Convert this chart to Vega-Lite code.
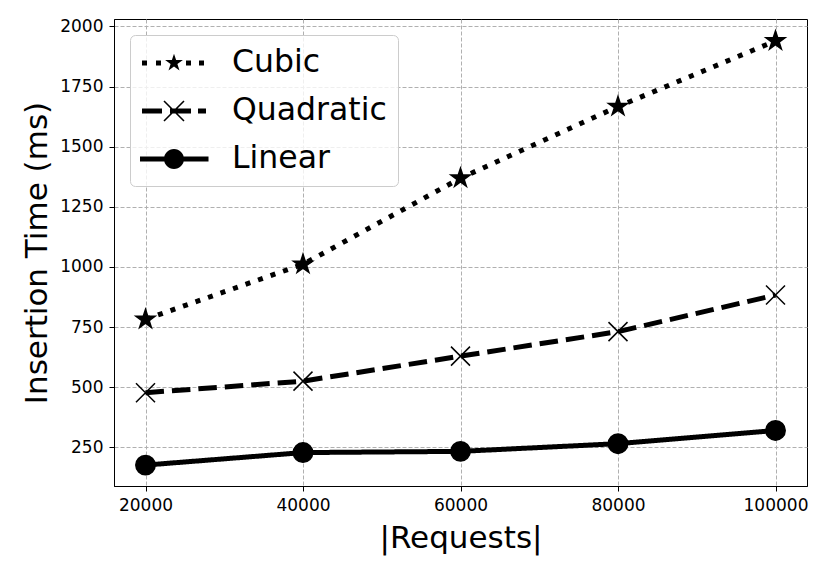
{
  "$schema": "https://vega.github.io/schema/vega-lite/v6.json",
  "width": 693,
  "height": 467,
  "autosize": {"type": "none"},
  "padding": {"left": 114, "top": 19, "right": 23, "bottom": 89},
  "background": "white",
  "config": {
    "font": "DejaVu Sans",
    "view": {"stroke": "black", "strokeWidth": 1},
    "axis": {
      "labelFont": "DejaVu Sans",
      "labelFontSize": 17,
      "labelColor": "black",
      "titleFont": "DejaVu Sans",
      "titleFontSize": 31,
      "titleFontWeight": "normal",
      "titleColor": "black",
      "tickColor": "black",
      "tickSize": 5,
      "tickWidth": 1,
      "domainColor": "black",
      "gridColor": "#b0b0b0",
      "gridDash": [4, 2],
      "gridWidth": 1,
      "labelPadding": 6
    }
  },
  "data": {
    "values": [
      {"series": "Cubic", "requests": 20000, "time": 782},
      {"series": "Cubic", "requests": 40000, "time": 1011},
      {"series": "Cubic", "requests": 60000, "time": 1369},
      {"series": "Cubic", "requests": 80000, "time": 1667},
      {"series": "Cubic", "requests": 100000, "time": 1940},
      {"series": "Quadratic", "requests": 20000, "time": 477},
      {"series": "Quadratic", "requests": 40000, "time": 525},
      {"series": "Quadratic", "requests": 60000, "time": 629},
      {"series": "Quadratic", "requests": 80000, "time": 731},
      {"series": "Quadratic", "requests": 100000, "time": 883},
      {"series": "Linear", "requests": 20000, "time": 176},
      {"series": "Linear", "requests": 40000, "time": 228},
      {"series": "Linear", "requests": 60000, "time": 233},
      {"series": "Linear", "requests": 80000, "time": 265},
      {"series": "Linear", "requests": 100000, "time": 320}
    ]
  },
  "encoding": {
    "x": {
      "field": "requests",
      "type": "quantitative",
      "scale": {"domain": [16000, 104000], "nice": false, "zero": false},
      "axis": {"values": [20000, 40000, 60000, 80000, 100000], "format": "d", "title": "|Requests|", "titlePadding": 10, "grid": true}
    },
    "y": {
      "field": "time",
      "type": "quantitative",
      "scale": {"domain": [89, 2031], "nice": false, "zero": false},
      "axis": {"values": [250, 500, 750, 1000, 1250, 1500, 1750, 2000], "format": "d", "title": "Insertion Time (ms)", "titlePadding": 6, "grid": true}
    }
  },
  "layer": [
    {
      "mark": {"type": "line", "color": "black", "strokeWidth": 5, "strokeCap": "butt", "strokeJoin": "round"},
      "encoding": {
        "strokeDash": {
          "field": "series",
          "type": "nominal",
          "scale": {"domain": ["Cubic", "Quadratic", "Linear"], "range": [[5, 8.25], [18.5, 8], [1, 0]]},
          "legend": null
        }
      }
    },
    {
      "mark": {"type": "point", "filled": true, "fill": "black", "stroke": "black", "strokeWidth": 1.5, "size": 400, "opacity": 1},
      "encoding": {
        "shape": {
          "field": "series",
          "type": "nominal",
          "scale": {
            "domain": ["Cubic", "Quadratic", "Linear"],
            "range": [
              "M0,-1L0.2245,-0.309L0.9511,-0.309L0.3633,0.118L0.5878,0.809L0,0.382L-0.5878,0.809L-0.3633,0.118L-0.9511,-0.309L-0.2245,-0.309Z",
              "M-0.95,-0.95L0.95,0.95M-0.95,0.95L0.95,-0.95",
              "M0.97,0C0.97,0.536 0.536,0.97 0,0.97C-0.536,0.97 -0.97,0.536 -0.97,0C-0.97,-0.536 -0.536,-0.97 0,-0.97C0.536,-0.97 0.97,-0.536 0.97,0Z"
            ]
          },
          "legend": null
        }
      }
    },
    {
      "transform": [{"filter": "false"}],
      "mark": {"type": "point", "filled": true, "color": "black", "size": 1156, "opacity": 1, "strokeWidth": 0},
      "encoding": {
        "shape": {
          "field": "series",
          "type": "nominal",
          "scale": {
            "domain": ["Cubic", "Quadratic", "Linear"],
            "range": [
              "M-1.882,-0.147H-1.588V0.147H-1.882Z M-1.059,-0.147H-0.765V0.147H-1.059Z M0.706,-0.147H1V0.147H0.706Z M1.471,-0.147H1.765V0.147H1.471Z M0,-0.55L0.1235,-0.17L0.523,-0.17L0.2,0.065L0.323,0.445L0,0.21L-0.323,0.445L-0.2,0.065L-0.523,-0.17L-0.1235,-0.17Z",
              "M-1.882,-0.147H-0.706V0.147H-1.882Z M-0.235,-0.147H1V0.147H-0.235Z M1.412,-0.147H1.882V0.147H1.412Z M-0.555,-0.621L0.621,0.555L0.555,0.621L-0.621,-0.555Z M-0.621,0.555L0.555,-0.621L0.621,-0.555L-0.555,0.621Z",
              "M-2,-0.147H2.03V0.147H-2Z M0.588,0C0.588,0.325 0.325,0.588 0,0.588C-0.325,0.588 -0.588,0.325 -0.588,0C-0.588,-0.325 -0.325,-0.588 0,-0.588C0.325,-0.588 0.588,-0.325 0.588,0Z"
            ]
          },
          "legend": {
            "title": null,
            "orient": "top-left",
            "offset": 16,
            "padding": 11,
            "fillColor": "rgba(255,255,255,0.8)",
            "strokeColor": "#cccccc",
            "cornerRadius": 5,
            "symbolSize": 1156,
            "symbolStrokeWidth": 0,
            "symbolOpacity": 1,
            "symbolFillColor": "black",
            "rowPadding": 15,
            "labelFont": "DejaVu Sans",
            "labelFontSize": 31.5,
            "labelColor": "black",
            "labelOffset": 41,
            "symbolOffset": 16,
            "labelLimit": 400
          }
        }
      }
    }
  ],
  "resolve": {"scale": {"shape": "independent"}, "legend": {"shape": "independent"}}
}
